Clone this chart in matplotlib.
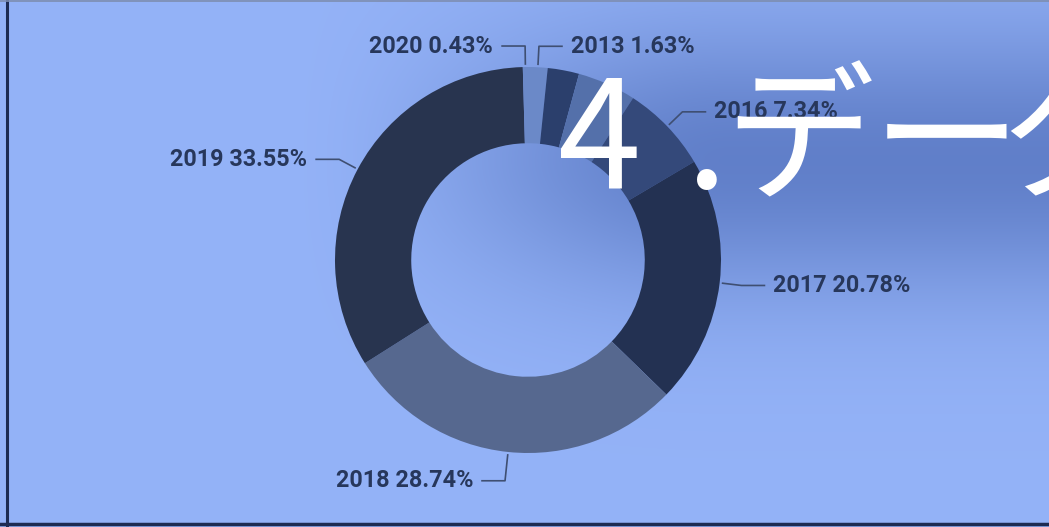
import numpy as np
import matplotlib.pyplot as plt

# donut data (share in %), clockwise from 12 o'clock
years = ["2013", "2014", "2015", "2016", "2017", "2018", "2019", "2020"]
shares = [1.63, 2.63, 4.90, 7.34, 20.78, 28.74, 33.55, 0.43]
shown = ["2013", "2016", "2017", "2018", "2019", "2020"]  # labels drawn
colors = ["#6b89c8", "#2b3f6c", "#5470aa", "#34497a", "#233152",
          "#56688f", "#28344f", "#6b89c8"]
title_chars = ["4", ".", "デ", "ー", "タ"]
title_x = [558, 686, 724, 872, 996]

W, H = 1049, 527
cx, cy, R = 528, H - 260, 193

fig = plt.figure(figsize=(W / 100, H / 100), dpi=100)
ax = fig.add_axes([0, 0, 1, 1])

# background: light blue with a darker band top right
yy, xx = np.mgrid[0:H, 0:W]
sx = np.clip((xx - 280) / 450, 0, 1)
sx = sx * sx * (3 - 2 * sx)
d = np.exp(-((yy - 160) / 135.0) ** 2) * sx
light = np.array([0.58, 0.70, 0.97])
dark = np.array([0.38, 0.50, 0.79])
bg = light[None, None, :] * (1 - d[..., None]) + dark[None, None, :] * d[..., None]
ax.imshow(bg, extent=(0, W, 0, H), origin="upper", zorder=0)

wedges, _ = ax.pie(shares, colors=colors, startangle=90, counterclock=False,
                   center=(cx, cy), radius=R, frame=True,
                   wedgeprops=dict(width=R * 0.395, edgecolor="none"))

lab_font = dict(family=["Roboto", "DejaVu Sans"],
                weight="bold", size=16.8, color="#27375b")
for w, yr, s in zip(wedges, years, shares):
    if yr not in shown:
        continue
    a = np.deg2rad((w.theta1 + w.theta2) / 2)
    dx, dy = np.cos(a), np.sin(a)
    L = 21 + 8 * max(0, -dy)  # a bit longer under the ring
    p0 = (cx + (R + 3) * dx, cy + (R + 3) * dy)
    p1 = (cx + (R + L) * dx, cy + (R + L) * dy)
    side = 1 if dx > 0 else -1
    p2 = (p1[0] + side * 23, p1[1])
    ax.plot([p0[0], p1[0], p2[0]], [p0[1], p1[1], p2[1]],
            color="#3f4f72", lw=1.2, zorder=3)
    ax.text(p2[0] + side * 9, p2[1], f"{yr} {s:.2f}%",
            ha="left" if side > 0 else "right", va="center", zorder=3,
            **lab_font)

# frame lines
ax.plot([7, 7], [0, H], color="#1d2b52", lw=2.2, zorder=4)
ax.plot([0, W], [3, 3], color="#1d2b52", lw=2.5, zorder=4)
ax.plot([0, W], [H - 0.5, H - 0.5], color="#7d8db0", lw=1.2, zorder=4)

for ch, x in zip(title_chars, title_x):
    ax.text(x, H - 188, ch, color="white", fontsize=108,
            family=["Noto Sans CJK JP", "DejaVu Sans"], ha="left",
            va="baseline", zorder=5)

ax.set_xlim(0, W)
ax.set_ylim(0, H)
ax.axis("off")
fig.savefig("out.png", dpi=100)
